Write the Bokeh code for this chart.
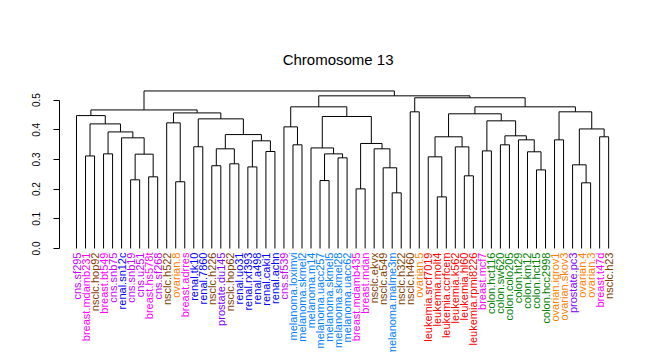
import numpy as np
from math import pi
from bokeh.plotting import figure
from bokeh.models import Range1d, FixedTicker, ColumnDataSource
from bokeh.embed import file_html
from bokeh.resources import INLINE
from bokeh.core.properties import value

title_text = "Chromosome 13"

leaf_labels = [
    "cns.sf295", "breast.mdamb231", "nsclc.hop92", "breast.bt549", "cns.snb75",
    "renal.sn12c", "cns.snb19", "cns.u251", "breast.hs578t", "cns.sf268",
    "nsclc.h522", "ovarian.8", "breast.adrres", "renal.tk10", "renal.7860",
    "nsclc.h226", "prostate.du145", "nsclc.hop62", "renal.uo31", "renal.rxf393",
    "renal.a498", "renal.caki1", "renal.achn", "cns.sf539", "melanoma.loximvi",
    "melanoma.skmel2", "melanoma.m14", "melanoma.uacc257", "melanoma.skmel5", "melanoma.skmel28",
    "melanoma.uacc62", "breast.mdamb435", "breast.mdan", "nsclc.ekvx", "nsclc.a549",
    "melanoma.malme3m", "nsclc.h322", "nsclc.h460", "ovarian.5", "leukemia.srcf7019",
    "leukemia.molt4", "leukemia.ccrfcem", "leukemia.k562", "leukemia.hl60", "leukemia.rpmi8226",
    "breast.mcf7", "colon.hct116", "colon.sw620", "colon.colo205", "colon.ht29",
    "colon.km12", "colon.hct15", "colon.hcc2998", "ovarian.igrov1", "ovarian.skov3",
    "prostate.pc3", "ovarian.4", "ovarian.3", "breast.t47d", "nsclc.h23",
]

# hclust-style merges: negative = leaf (1-based, display order), positive = earlier merge
merge_left = [
    -2, -4, -7, -9, 3, -6, 2, 1, -1, -12,
    -11, -14, -16, -18, 13, -20, -22, 16, 15, 12,
    11, 9, -25, -24, -28, -30, 25, -27, -32, -36,
    -35, -34, 29, 28, 24, -38, -41, -40, -44, -43,
    38, -46, -48, -52, -51, -50, 43, 42, 41, -54,
    -57, -56, -59, 52, 50, 49, 36, 35, 22,
]
merge_right = [
    -3, -5, -8, -10, 4, 5, 6, 7, 8, -13,
    10, -15, -17, -19, 14, -21, -23, 17, 18, 19,
    20, 21, -26, 23, -29, -31, 26, 27, -33, -37,
    30, 31, 32, 33, 34, -39, -42, 37, -45, 39,
    40, -47, -49, -53, 44, 45, 46, 47, 48, -55,
    -58, 51, -60, 53, 54, 55, 56, 57, 58,
]
merge_height = [
    0.312, 0.319, 0.2315, 0.2416, 0.318, 0.373, 0.393, 0.420, 0.448, 0.225,
    0.4235, 0.343, 0.279, 0.2855, 0.336, 0.275, 0.327, 0.363, 0.384, 0.437,
    0.457, 0.467, 0.3495, 0.410, 0.229, 0.3056, 0.319, 0.339, 0.201, 0.1876,
    0.272, 0.336, 0.354, 0.445, 0.4775, 0.4607, 0.174, 0.309, 0.245, 0.3426,
    0.3765, 0.329, 0.3495, 0.265, 0.326, 0.3663, 0.3798, 0.4303, 0.454, 0.3663,
    0.2214, 0.282, 0.3765, 0.403, 0.4607, 0.4775, 0.508, 0.5146, 0.531,
]

y_ticks = [0.0, 0.1, 0.2, 0.3, 0.4, 0.5]
y_tick_labels = ["0.0", "0.1", "0.2", "0.3", "0.4", "0.5"]

class_colors = {
    "cns": "#CC00FF",
    "breast": "#FF00FF",
    "nsclc": "#804000",
    "renal": "#0000FF",
    "ovarian": "#FF8000",
    "prostate": "#8000FF",
    "melanoma": "#0080FF",
    "leukemia": "#FF0000",
    "colon": "#008000",
}

# ---- dendrogram layout from merges ----
n = len(leaf_labels)
leaf_x = np.arange(1, n + 1, dtype=float)
node_x, node_h = [], []


def pos(k):
    if k < 0:
        return leaf_x[-k - 1], 0.0
    return node_x[k - 1], node_h[k - 1]


x0, y0, x1, y1 = [], [], [], []
for l, r, h in zip(merge_left, merge_right, merge_height):
    xl, hl = pos(l)
    xr, hr = pos(r)
    x0 += [xl, xl, xr]
    y0 += [hl, h, hr]
    x1 += [xl, xr, xr]
    y1 += [h, h, h]
    node_x.append((xl + xr) / 2.0)
    node_h.append(h)

seg_src = ColumnDataSource(dict(x0=x0, y0=y0, x1=x1, y1=y1))
colors = [class_colors[lab.split(".")[0]] for lab in leaf_labels]
lab_src = ColumnDataSource(dict(x=leaf_x, y=np.zeros(n), text=leaf_labels, color=colors))

p = figure(
    width=639, height=352,
    x_range=Range1d(-0.885, 63.42), y_range=Range1d(-0.3505, 0.8359),
    output_backend="svg", toolbar_location=None, x_axis_location=None,
    min_border_left=59, min_border_right=0, min_border_top=0, min_border_bottom=0,
)
p.outline_line_color = None
p.grid.visible = False
p.background_fill_color = "white"
p.border_fill_color = "white"

ax = p.yaxis[0]
ax.bounds = (0, 0.5)
ax.ticker = FixedTicker(ticks=y_ticks)
ax.major_label_overrides = {t: s for t, s in zip(y_ticks, y_tick_labels)}
ax.major_label_orientation = "vertical"
ax.major_tick_out = 6
ax.major_tick_in = 0
ax.minor_tick_out = 0
ax.minor_tick_in = 0
ax.major_label_standoff = 13
ax.major_label_text_font = "Liberation Sans"
ax.major_label_text_font_size = "10px"
ax.major_label_text_color = "#000000"
ax.axis_line_color = "black"
ax.major_tick_line_color = "black"

p.segment(x0="x0", y0="y0", x1="x1", y1="y1", source=seg_src,
          line_color="black", line_width=1)

p.text(x="x", y="y", text="text", source=lab_src, angle=pi / 2,
       text_align="right", text_baseline="middle", text_color="color",
       text_font=value("Liberation Sans"), text_font_size="11px", y_offset=4)

p.text(x=[30.0], y=[0.636], text=[title_text],
       text_align="center", text_baseline="alphabetic", text_color="black",
       text_font=value("Liberation Sans"), text_font_size="15px")

open("out.html", "w").write(file_html(p, INLINE))
